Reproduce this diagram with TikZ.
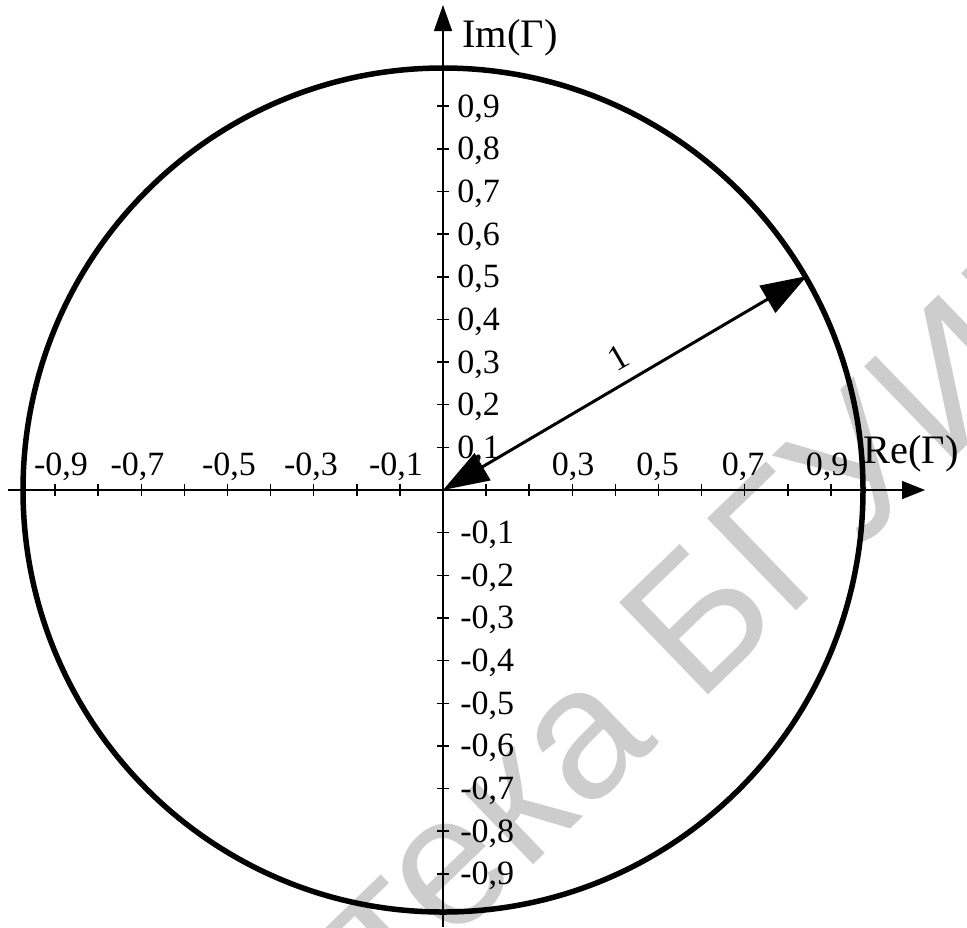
\documentclass[tikz,border=0pt]{standalone}
\usepackage{fontspec}
\setmainfont{Liberation Serif}
\newfontfamily\wmfont{Liberation Sans}
\usetikzlibrary{arrows.meta}
\definecolor{wmgray}{RGB}{205,205,205}
\begin{document}
\begin{tikzpicture}[x=0.5pt,y=-0.5pt,
  ticklbl/.style={inner sep=0pt, font=\fontsize{17pt}{20pt}\selectfont},
  axislbl/.style={inner sep=0pt, font=\fontsize{20.2pt}{24pt}\selectfont},
  axisline/.style={line width=0.75pt},
  tickline/.style={line width=0.75pt},
  unitcircle/.style={line width=2.75pt},
  radiusarrow/.style={line width=1.5pt, {Triangle[length=23pt,width=15.5pt]}-{Triangle[length=23pt,width=15.5pt]}},
  wm/.style={inner sep=0pt, text=wmgray, rotate=44, font=\wmfont\fontsize{93pt}{100pt}\selectfont}]
\useasboundingbox (0,0) rectangle (967,927);
\fill[white] (0,0) rectangle (967,927);
% watermark
\node[wm, anchor=base east] (wmA) at (660.4,741.8) {Библиотека};
\node[wm, anchor=base west] (wmB) at (697.4,706.1) {БГУИР};
% key points
\coordinate (O) at (443,490);
\coordinate (xs) at (8,490);
\coordinate (xe) at (925,490);
\coordinate (ys) at (443,927);
\coordinate (ye) at (443,5);
\coordinate (R) at (807,276);
% axes
\draw[axisline,-{Triangle[length=11.5pt,width=9pt]}] (xs) -- (xe);
\draw[axisline,-{Triangle[length=13pt,width=9pt]}] (ys) -- (ye);
% ticks
\foreach \k in {-9,...,-1,1,2,...,9}{
  \draw[tickline] ({443+(\k)*43.1},484) -- ({443+(\k)*43.1},496);
  \draw[tickline] (437,{490-(\k)*42.65}) -- (449,{490-(\k)*42.65});
}
% y labels
\foreach \k in {1,...,9}{
  \node[ticklbl, anchor=base west] (yp\k) at (457,{490-\k*42.65+11}) {0,\k};
  \node[ticklbl, anchor=base west] (yn\k) at (460,{490+\k*42.65+11}) {-0,\k};
}
% x labels
\node[ticklbl, anchor=base] (xn9) at (61,475) {-0,9};
\node[ticklbl, anchor=base] (xn7) at (137.5,475) {-0,7};
\node[ticklbl, anchor=base] (xn5) at (229,475) {-0,5};
\node[ticklbl, anchor=base] (xn3) at (311,475) {-0,3};
\node[ticklbl, anchor=base] (xn1) at (396,475) {-0,1};
\node[ticklbl, anchor=base] (xp3) at (573,475) {0,3};
\node[ticklbl, anchor=base] (xp5) at (657.5,475) {0,5};
\node[ticklbl, anchor=base] (xp7) at (743,475) {0,7};
\node[ticklbl, anchor=base] (xp9) at (827,475) {0,9};
% axis names
\node[axislbl, anchor=base west] (im) at (462,47) {Im(Γ)};
\node[axislbl, anchor=base west] (re) at (863,463) {Re(Γ)};
% circle
\draw[unitcircle] (O) ellipse [x radius=420, y radius=422];
% radius arrow
\draw[radiusarrow] (O) -- (R);
\node[rotate=30, inner sep=0pt, font=\fontsize{18pt}{22pt}\selectfont] (one) at (618,358) {1};
\end{tikzpicture}
\end{document}
